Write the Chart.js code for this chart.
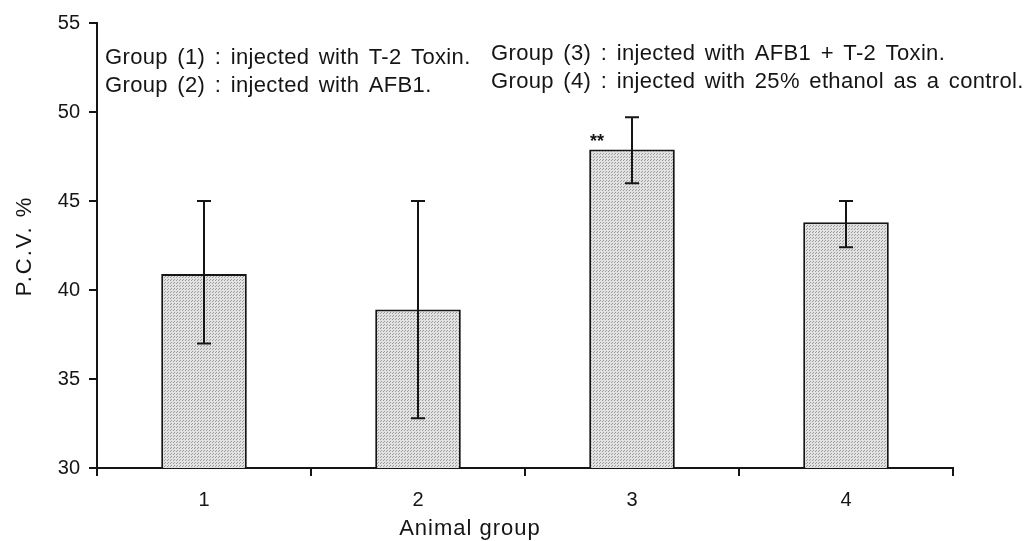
<!DOCTYPE html>
<html>
<head>
<meta charset="utf-8">
<script src="https://cdn.jsdelivr.net/npm/chart.js@4/dist/chart.umd.min.js"></script>
<style>
  html, body { margin: 0; padding: 0; background: #fff; }
  #wrap { width: 1030px; height: 541px; }
</style>
</head>
<body>
<div id="wrap"><canvas id="myChart" width="1030" height="541"></canvas></div>
<script>
// Data
const groups = ['1', '2', '3', '4'];
const pcv = [40.9, 38.9, 47.9, 43.8];
const errLow = [37.0, 32.8, 46.0, 42.4];
const errHigh = [45.0, 45.0, 49.7, 45.0];
const marks = ['', '', '**', ''];
const notesLeft = ['Group (1) : injected with T-2 Toxin.', 'Group (2) : injected with AFB1.'];
const notesRight = ['Group (3) : injected with AFB1 + T-2 Toxin.', 'Group (4) : injected with 25% ethanol as a control.'];
const xTitle = 'Animal group';
const yTitle = 'P.C.V. %';

const font = '"Liberation Sans", Arial, Helvetica, sans-serif';
const ink = '#151515';

// dotted grey fill, like the print screen
function dotPattern() {
    const c = document.createElement('canvas');
    c.width = 3; c.height = 3;
    const g = c.getContext('2d');
    g.fillStyle = '#e2e2e2';
    g.fillRect(0, 0, 3, 3);
    g.fillStyle = '#9c9c9c';
    g.fillRect(0, 0, 1, 1);
    g.fillRect(2, 1, 1, 1);
    return g.createPattern(c, 'repeat');
}

const errorBars = {
    id: 'errorBars',
    afterDatasetsDraw(chart) {
        const ctx = chart.ctx;
        const x = chart.scales.x, y = chart.scales.y;
        ctx.save();
        ctx.strokeStyle = ink;
        ctx.lineWidth = 2;
        groups.forEach((g, i) => {
            const cx = x.getPixelForValue(i);
            const top = y.getPixelForValue(errHigh[i]);
            const bot = y.getPixelForValue(errLow[i]);
            ctx.beginPath();
            ctx.moveTo(cx, top); ctx.lineTo(cx, bot);
            ctx.moveTo(cx - 7, top); ctx.lineTo(cx + 7, top);
            ctx.moveTo(cx - 7, bot); ctx.lineTo(cx + 7, bot);
            ctx.stroke();
            if (marks[i]) {
                ctx.fillStyle = ink;
                ctx.font = 'bold 18px ' + font;
                ctx.textAlign = 'center';
                ctx.textBaseline = 'alphabetic';
                ctx.fillText(marks[i], cx - 35, y.getPixelForValue(pcv[i]) - 2);
            }
        });
        ctx.restore();
    }
};

const notes = {
    id: 'notes',
    afterDraw(chart) {
        const ctx = chart.ctx;
        ctx.save();
        ctx.fillStyle = ink;
        ctx.font = '22px ' + font;
        ctx.textAlign = 'left';
        ctx.textBaseline = 'alphabetic';
        ctx.letterSpacing = '0.35px';
        ctx.wordSpacing = '3px';
        notesLeft.forEach((t, i) => ctx.fillText(t, 105, 64 + i * 28));
        notesRight.forEach((t, i) => ctx.fillText(t, 491, 60 + i * 28));
        ctx.wordSpacing = '0px';
        ctx.letterSpacing = '1px';
        ctx.textAlign = 'center';
        ctx.fillText(xTitle, 470, 535);
        ctx.translate(31, 246);
        ctx.rotate(-Math.PI / 2);
        ctx.letterSpacing = '2px';
        ctx.fillText(yTitle, 0, 0);
        ctx.restore();
    }
};

const ctx = document.getElementById('myChart').getContext('2d');
new Chart(ctx, {
    type: 'bar',
    data: {
        labels: groups,
        datasets: [{
            data: pcv,
            backgroundColor: dotPattern(),
            borderColor: ink,
            borderWidth: 2,
            borderSkipped: 'bottom',
            barPercentage: 0.4,
            categoryPercentage: 1.0
        }]
    },
    options: {
        responsive: false,
        animation: false,
        layout: { padding: { top: 23, right: 77, left: 0, bottom: 0 } },
        plugins: {
            legend: { display: false },
            tooltip: { enabled: false }
        },
        scales: {
            x: {
                offset: true,
                grid: { offset: true, drawOnChartArea: false, tickLength: 8, color: ink, lineWidth: 2 },
                border: { color: ink, width: 2 },
                ticks: { color: ink, font: { size: 20, family: font }, padding: 12 },
                afterFit(scale) { scale.height = 73; }
            },
            y: {
                min: 30,
                max: 55,
                ticks: { stepSize: 5, color: ink, font: { size: 20, family: font }, padding: 9 },
                grid: { drawOnChartArea: false, tickLength: 8, color: ink, lineWidth: 2 },
                border: { color: ink, width: 2 },
                afterFit(scale) { scale.width = 97; }
            }
        }
    },
    plugins: [errorBars, notes]
});
</script>
</body>
</html>
